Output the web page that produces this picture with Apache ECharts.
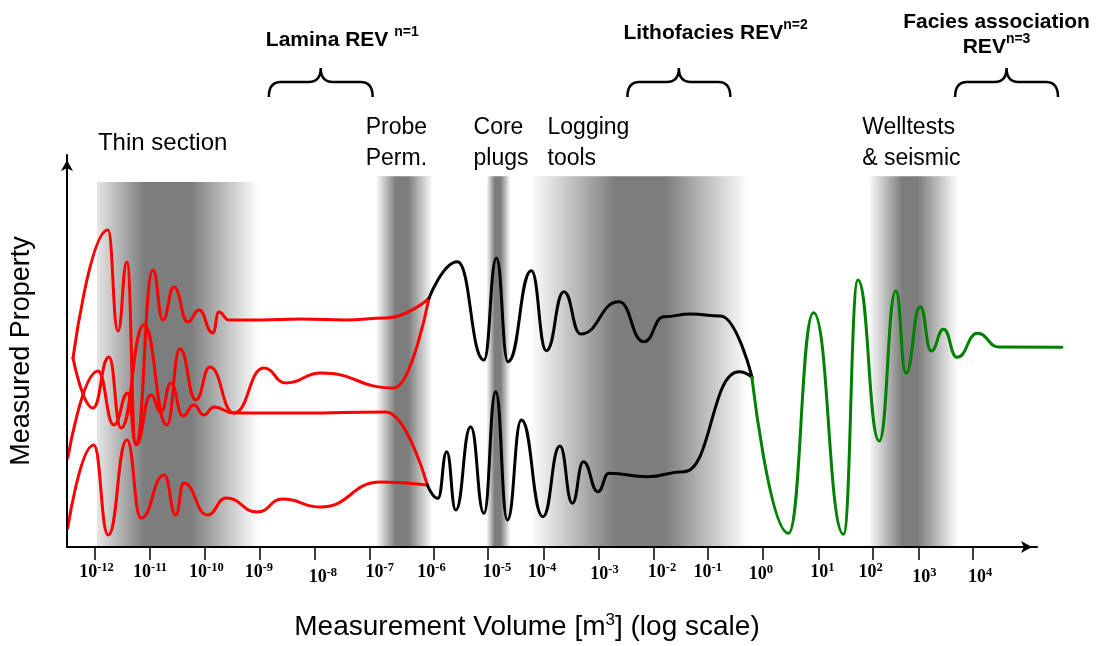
<!DOCTYPE html>
<html>
<head>
<meta charset="utf-8">
<title>Measurement volume and REV scales</title>
<script src="https://cdn.jsdelivr.net/npm/echarts@6/dist/echarts.min.js"></script>
<style>
  html, body { margin: 0; padding: 0; background: #ffffff; }
  #chart { width: 1102px; height: 646px; }
</style>
</head>
<body>
<div id="chart"></div>
<script>
// x: schematic position on a log10 scale of measurement volume (decades)
// y: measured property, arbitrary units 0-100

// tick labels (powers of ten) and where each tick sits on the schematic axis
const TICK_EXP = [-12, -11, -10, -9, -8, -7, -6, -5, -4, -3, -2, -1, 0, 1, 2, 3, 4];
const TICK_AT  = [-12, -10.99, -10, -8.99, -7.99, -6.99, -5.83, -4.84, -3.82, -2.83, -1.82, -0.84, 0.16, 1.17, 2.16, 2.99, 3.99];

// measurement tools and the volume windows they sample: [fade in, dark from, dark to, fade out]
const TOOL_NAMES = ['Thin section', 'Probe\nPerm.', 'Core\nplugs', 'Logging\ntools', 'Welltests\n& seismic'];
const TOOL_BANDS = [
  [-11.955, -11.10, -10.246, -9.01],
  [-6.883, -6.52, -6.283, -5.847],
  [-4.866, -4.72, -4.611, -4.429],
  [-4.066, -2.521, -1.612, -0.103],
  [2.078, 2.696, 2.987, 3.714]
];
const TOOL_BAND_TOP = [93.1, 94.6, 94.6, 94.6, 94.6];

// representative elementary volumes and their volume ranges
const REV_NAMES  = ['Lamina', 'Lithofacies', 'Facies association'];
const REV_ORDER  = ['n=1', 'n=2', 'n=3'];
const REV_RANGES = [[-8.828, -6.938], [-2.303, -0.43], [3.66, 5.532]];

// small-scale (lamina) property curves
const RED_1 = [[-12.391, 48.21], [-11.755, 80.87], [-11.573, 55.10], [-11.409, 72.70], [-11.246, 26.53],
  [-10.937, 70.66], [-10.755, 57.91], [-10.555, 66.33], [-10.301, 57.40], [-10.101, 60.46], [-9.846, 54.59],
  [-9.737, 59.95], [-9.555, 57.91], [-8.974, 57.91], [-8.247, 58.16], [-7.429, 57.91], [-6.701, 58.42], [-5.914, 63.44]];
const RED_2 = [[-12.391, 48.21], [-12.027, 35.46], [-11.737, 48.47], [-11.518, 30.36], [-11.10, 56.63],
  [-10.682, 31.12], [-10.446, 50.51], [-10.155, 37.50], [-9.901, 45.92], [-9.464, 34.18], [-8.919, 45.66],
  [-8.519, 41.84], [-7.883, 44.39], [-6.556, 40.56], [-5.914, 63.44]];
const RED_3 = [[-12.487, 22.70], [-11.937, 44.90], [-11.646, 31.12], [-11.391, 39.29], [-11.246, 26.02],
  [-10.973, 38.78], [-10.791, 34.44], [-10.61, 41.84], [-10.391, 33.42], [-10.192, 36.22], [-10.01, 33.67],
  [-9.828, 35.71], [-9.464, 34.18], [-8.247, 34.18], [-6.701, 34.44], [-5.943, 15.82]];
const RED_4 = [[-12.487, 4.85], [-12.015, 26.02], [-11.75, 3.06], [-11.409, 27.30], [-11.155, 7.40],
  [-10.731, 18.37], [-10.519, 8.16], [-10.379, 16.33], [-9.942, 8.16], [-9.61, 12.50], [-9.034, 8.93],
  [-8.579, 12.24], [-7.883, 10.20], [-6.792, 16.58], [-5.943, 15.82]];

// intermediate-scale (lithofacies) property curves
const BLACK_UPPER = [[-5.914, 63.44], [-5.396, 72.78], [-4.913, 47.70], [-4.687, 73.65], [-4.476, 47.27],
  [-4.051, 70.48], [-3.778, 50.08], [-3.458, 65.13], [-3.155, 54.34], [-2.458, 62.58], [-2.004, 52.37],
  [-1.64, 58.75], [-1.155, 59.44], [-0.609, 58.93], [-0.033, 43.29]];
const BLACK_LOWER = [[-5.943, 15.82], [-5.749, 12.42], [-5.591, 24.31], [-5.427, 9.44], [-5.155, 30.69],
  [-4.913, 8.60], [-4.70, 39.62], [-4.487, 6.89], [-4.233, 32.40], [-3.84, 7.73], [-3.531, 25.77],
  [-3.305, 11.15], [-3.105, 21.76], [-2.84, 14.11], [-2.64, 18.80], [-1.942, 17.93], [-1.276, 19.21],
  [-0.276, 44.72], [-0.033, 43.29]];

// large-scale (facies association) property curve
const GREEN = [[-0.033, 43.29], [0.633, 3.49], [1.087, 59.77], [1.633, 3.24], [1.895, 68.11], [2.282, 27.04],
  [2.585, 65.38], [2.767, 44.31], [3.027, 61.30], [3.227, 50.0], [3.451, 55.54], [3.695, 48.39],
  [4.069, 54.52], [4.45, 51.0], [5.604, 50.94]];

// ---------- styling ----------
const SANS = '"Liberation Sans", Arial, sans-serif';
const SERIF = '"Liberation Serif", "Times New Roman", serif';
const GRAY = '#7d7d7d';
const BAND_EDGE = ['#e6e6e6', '#ffffff', '#ffffff', '#ffffff', '#ffffff'];
const TOOL_LABEL_DX = [1, -10, -13, 17, -6];
// per-label nudges [dx, dy] in px for the power-of-ten labels
const LABEL_NUDGE = { '-12': [2, 0], '-10': [2, 0], '-9': [-1, 0], '-8': [8, 5], '-7': [10, 0], '-6': [-2, 0],
  '-5': [9, 0], '-4': [-2, 0], '-3': [6, 2], '-2': [8, 0], '0': [-2, 2], '1': [4, 0], '2': [-2, 0],
  '3': [6, 5], '4': [7, 5] };
const REV_LAYOUT = [
  { anchor: 'start', dx: -3, dy: -117, align: 'left', join: ' REV ' },
  { anchor: 'start', dx: -4, dy: -124, align: 'left', join: ' REV' },
  { anchor: 'mid', dx: -10, dy: -122.5, align: 'center', join: '\nREV' }
];

const TICK_RICH = {
  b: { fontFamily: SERIF, fontWeight: 'bold', fontSize: 18, lineHeight: 20, verticalAlign: 'bottom', fill: '#000' },
  s: { fontFamily: SERIF, fontWeight: 'bold', fontSize: 12.5, lineHeight: 20, verticalAlign: 'top', fill: '#000' }
};
const REV_RICH = {
  t: { fontFamily: SANS, fontWeight: 'bold', fontSize: 21, lineHeight: 25, verticalAlign: 'bottom', fill: '#000' },
  p: { fontFamily: SANS, fontWeight: 'bold', fontSize: 14, lineHeight: 25, verticalAlign: 'top', fill: '#000' }
};

// both grids share the same left edge and the same px-per-decade scale;
// the second one is wider so the large-scale curve can run past the axis arrow
const X_MIN = -12.5, X_MAX = 5.15, X_MAX_WIDE = 5.6953;

function curve(data, color, grid) {
  return {
    type: 'line',
    data: data,
    xAxisIndex: grid || 0,
    yAxisIndex: grid || 0,
    smooth: 0.5,
    smoothMonotone: 'x',
    symbol: 'none',
    clip: false,
    z: 3,
    lineStyle: { color: color, width: 3, cap: 'round', join: 'round' }
  };
}

const chart = echarts.init(document.getElementById('chart'), null, { renderer: 'canvas' });

const hiddenAxis = {
  show: false, axisLine: { show: false }, axisTick: { show: false }, axisLabel: { show: false }, splitLine: { show: false }
};

const option = {
  animation: false,
  backgroundColor: '#ffffff',
  grid: [
    { left: 66, right: 65, top: 155, bottom: 99, containLabel: false },
    { left: 66, right: 35, top: 155, bottom: 99, containLabel: false }
  ],
  xAxis: [{
    type: 'value',
    gridIndex: 0,
    min: X_MIN,
    max: X_MAX,
    z: 5,
    name: 'Measurement Volume [m{sup|3}] (log scale)',
    nameLocation: 'middle',
    nameGap: 65,
    nameTextStyle: {
      fontFamily: SANS, fontSize: 28, color: '#000', padding: [0, 50, 0, 0],
      rich: { sup: { fontFamily: SANS, fontSize: 17, color: '#000', verticalAlign: 'top', lineHeight: 30 } }
    },
    axisLine: {
      onZero: false, symbol: ['none', 'arrow'], symbolSize: [9, 11], symbolOffset: [0, -5],
      lineStyle: { color: '#000', width: 2 }
    },
    axisTick: { show: true, customValues: TICK_AT, length: 13, lineStyle: { color: '#000', width: 1.5 } },
    axisLabel: { show: false },
    splitLine: { show: false }
  }, Object.assign({ type: 'value', gridIndex: 1, min: X_MIN, max: X_MAX_WIDE }, hiddenAxis)],
  yAxis: [{
    type: 'value',
    gridIndex: 0,
    min: 0,
    max: 100,
    z: 5,
    name: 'Measured Property',
    nameLocation: 'middle',
    nameGap: 32,
    nameTextStyle: { fontFamily: SANS, fontSize: 27, color: '#000' },
    axisLine: {
      onZero: false, symbol: ['none', 'arrow'], symbolSize: [9, 11], symbolOffset: [0, -5],
      lineStyle: { color: '#000', width: 2 }
    },
    axisTick: { show: false },
    axisLabel: { show: false },
    splitLine: { show: false }
  }, Object.assign({ type: 'value', gridIndex: 1, min: 0, max: 100 }, hiddenAxis)],
  series: [
    // sampling windows of the measurement tools, with their names
    {
      type: 'custom',
      silent: true,
      clip: false,
      z: 1,
      data: TOOL_BANDS.map((b, i) => b.concat([TOOL_BAND_TOP[i]])),
      encode: { x: [0, 1, 2, 3], y: 4 },
      renderItem: function (params, api) {
        const i = params.dataIndex;
        const xs = [0, 1, 2, 3].map(k => api.coord([api.value(k), 0])[0]);
        const yBottom = api.coord([api.value(0), 0])[1];
        const yTop = api.coord([api.value(0), api.value(4)])[1];
        const w = xs[3] - xs[0];
        const fill = new echarts.graphic.LinearGradient(0, 0, 1, 0, [
          { offset: 0, color: BAND_EDGE[i] },
          { offset: (xs[1] - xs[0]) / w, color: GRAY },
          { offset: (xs[2] - xs[0]) / w, color: GRAY },
          { offset: 1, color: '#ffffff' }
        ]);
        const top = params.coordSys.y;
        return {
          type: 'group',
          children: [
            { type: 'rect', shape: { x: xs[0], y: yTop, width: w, height: yBottom - yTop }, style: { fill: fill } },
            {
              type: 'text', x: xs[0] + TOOL_LABEL_DX[i], y: top - 12,
              style: {
                text: TOOL_NAMES[i], fontFamily: SANS, fontSize: i === 0 ? 24 : 23, lineHeight: 31,
                fill: '#000', align: 'left', verticalAlign: 'middle'
              }
            }
          ]
        };
      }
    },
    curve(RED_1, '#ff0000'),
    curve(RED_2, '#ff0000'),
    curve(RED_3, '#ff0000'),
    curve(RED_4, '#ff0000'),
    curve(BLACK_UPPER, '#000000'),
    curve(BLACK_LOWER, '#000000'),
    curve(GREEN, '#008000', 1),
    // power-of-ten tick labels
    {
      type: 'custom',
      silent: true,
      clip: false,
      z: 6,
      data: TICK_AT.map(u => [u, 0]),
      encode: { x: 0, y: 1 },
      renderItem: function (params, api) {
        const e = TICK_EXP[params.dataIndex];
        const p = api.coord([api.value(0), 0]);
        const n = LABEL_NUDGE[String(e)] || [0, 0];
        return {
          type: 'text', x: p[0] + n[0], y: p[1] + 14 + n[1],
          style: { text: '{b|10}{s|' + e + '}', rich: TICK_RICH, align: 'center', verticalAlign: 'top' }
        };
      }
    },
    // REV braces and titles
    {
      type: 'custom',
      silent: true,
      clip: false,
      z: 6,
      data: REV_RANGES,
      encode: { x: [0, 1] },
      renderItem: function (params, api) {
        const i = params.dataIndex;
        const x0 = api.coord([api.value(0), 0])[0];
        const x1 = api.coord([api.value(1), 0])[0];
        const top = params.coordSys.y;
        const yPeak = top - 87, yBar = top - 73, yEnd = top - 58;
        const xm = (x0 + x1) / 2, r = 12;
        const d = 'M' + x0 + ',' + yEnd + ' Q' + x0 + ',' + yBar + ' ' + (x0 + r) + ',' + yBar +
          ' L' + (xm - r) + ',' + yBar + ' Q' + xm + ',' + yBar + ' ' + xm + ',' + yPeak +
          ' Q' + xm + ',' + yBar + ' ' + (xm + r) + ',' + yBar +
          ' L' + (x1 - r) + ',' + yBar + ' Q' + x1 + ',' + yBar + ' ' + x1 + ',' + yEnd;
        const L = REV_LAYOUT[i];
        const parts = L.join.split('\n');
        let text = '{t|' + REV_NAMES[i] + parts[0] + '}';
        if (parts.length > 1) text += '\n{t|' + parts[1] + '}';
        text += '{p|' + REV_ORDER[i] + '}';
        return {
          type: 'group',
          children: [
            { type: 'path', shape: { pathData: d }, style: { stroke: '#000', lineWidth: 2.5, fill: 'none' } },
            {
              type: 'text', x: (L.anchor === 'mid' ? xm : x0) + L.dx, y: top + L.dy,
              style: { text: text, rich: REV_RICH, align: L.align, verticalAlign: 'middle' }
            }
          ]
        };
      }
    }
  ]
};

chart.setOption(option);
</script>
</body>
</html>
